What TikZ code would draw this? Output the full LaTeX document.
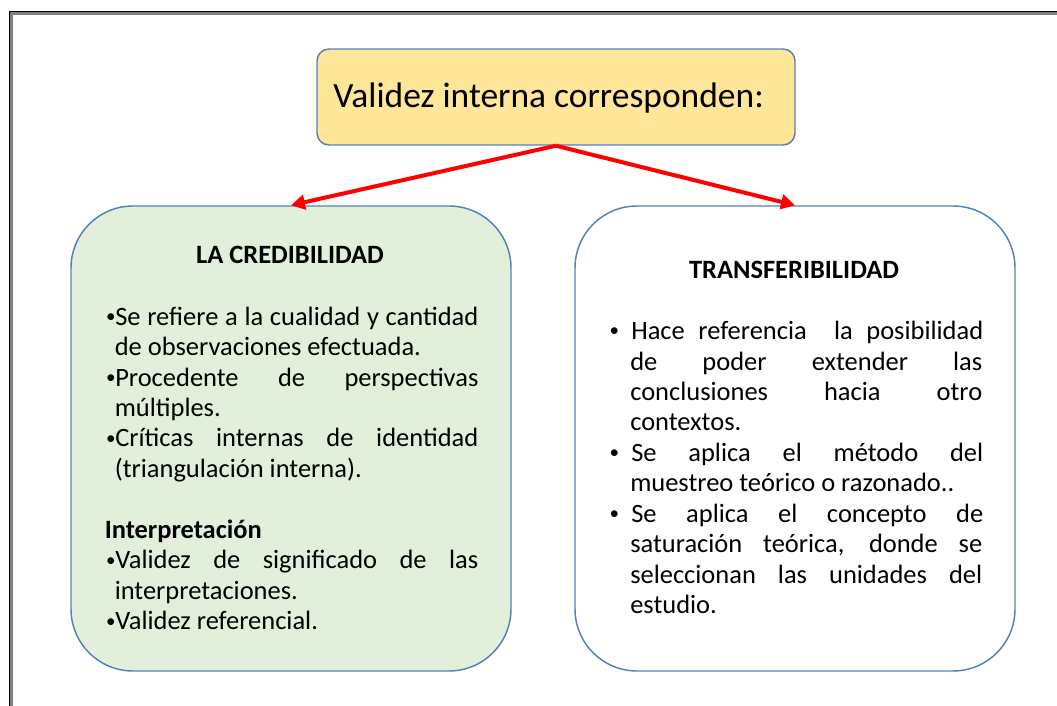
\documentclass[tikz,border=0pt]{standalone}
\usepackage{fontspec}
\setmainfont{Carlito}
\usetikzlibrary{arrows.meta}
\definecolor{bordc}{RGB}{84,130,180}
\definecolor{topfill}{RGB}{255,230,153}
\definecolor{lfill}{RGB}{226,239,218}
\definecolor{framegray}{RGB}{128,128,128}
\newcommand\bodyfont{\fontsize{19.85}{23}\selectfont}
\newcommand\smbullet{\raisebox{1.6pt}{\scalebox{0.72}{\textbullet}}}
\newcommand\lb{\makebox[7.9pt][l]{\hspace{1pt}\smbullet}}
\newcommand\rb{\makebox[17.25pt][l]{\hspace{1pt}\smbullet}}
\newcommand\lj[1]{\makebox[272.25pt][s]{#1}}
\newcommand\rj[1]{\makebox[264pt][s]{#1}}
\begin{document}
\begin{tikzpicture}[x=0.75pt,y=-0.75pt,
  box/.style={draw=bordc,line width=1.1pt,inner sep=0pt},
  arr/.style={draw=red,line width=3pt,-{Triangle[length=10.5pt,width=11pt]}},
  txt/.style={anchor=base west,inner sep=0pt,font=\bodyfont,text=black},
  head/.style={anchor=base,inner sep=0pt,font=\bodyfont\bfseries,text=black}]
\useasboundingbox (0,0) rectangle (1057,706);
% frame
\draw[framegray,line width=1.9pt] (11.5,706) -- (11.5,13.5) -- (1057,13.5);
\draw[black,line width=0.8pt] (9.8,706) -- (9.8,11.3) -- (1057,11.3);
% boxes
\node[box,fill=topfill,rounded corners=9pt,minimum width=358.5pt,minimum height=72pt] (top) at (556,97) {};
\node[box,fill=lfill,rounded corners=46.5pt,minimum width=330pt,minimum height=348.75pt] (lbox) at (291,438.5) {};
\node[box,fill=white,rounded corners=46.5pt,minimum width=330pt,minimum height=348.75pt] (rbox) at (795,438.5) {};
% arrows
\draw[arr] (top.south) -- (lbox.north);
\draw[arr] (top.south) -- (rbox.north);
% top text
\node[anchor=base west,inner sep=0pt,font=\fontsize{26.6}{31}\selectfont] (toptxt) at (333,108) {Validez interna corresponden:};
% left box
\node[head] (lhead) at (290,263) {LA CREDIBILIDAD};
\node[txt] (l1) at (104.5,325) {\lb\lj{Se refiere a la cualidad y cantidad}};
\node[txt] (l2) at (114.5,355.5) {de observaciones efectuada.};
\node[txt] (l3) at (104.5,386) {\lb\lj{Procedente de perspectivas}};
\node[txt] (l4) at (114.5,416) {múltiples.};
\node[txt] (l5) at (104.5,446.5) {\lb\lj{Críticas internas de identidad}};
\node[txt] (l6) at (114.5,477) {(triangulación interna).};
\node[txt,font=\bodyfont\bfseries] (l7) at (104.5,538) {Interpretación};
\node[txt] (l8) at (104.5,568.5) {\lb\lj{Validez de significado de las}};
\node[txt] (l9) at (114.5,599) {interpretaciones.};
\node[txt] (l10) at (104.5,629.5) {\lb Validez referencial.};
% right box
\node[head] (rhead) at (794,278) {TRANSFERIBILIDAD};
\node[txt] (r1) at (608,339) {\rb\rj{Hace referencia\ \ la posibilidad}};
\node[txt] (r2) at (630,370) {\rj{de poder extender las}};
\node[txt] (r3) at (630,400) {\rj{conclusiones hacia otro}};
\node[txt] (r4) at (630,430) {contextos.};
\node[txt] (r5) at (608,461) {\rb\rj{Se aplica el método del}};
\node[txt] (r6) at (630,491.5) {muestreo teórico o razonado..};
\node[txt] (r7) at (608,522) {\rb\rj{Se aplica el concepto de}};
\node[txt] (r8) at (630,552.5) {\rj{saturación teórica, donde se}};
\node[txt] (r9) at (630,583) {\rj{seleccionan las unidades del}};
\node[txt] (r10) at (630,613.5) {estudio.};
\end{tikzpicture}
\end{document}
